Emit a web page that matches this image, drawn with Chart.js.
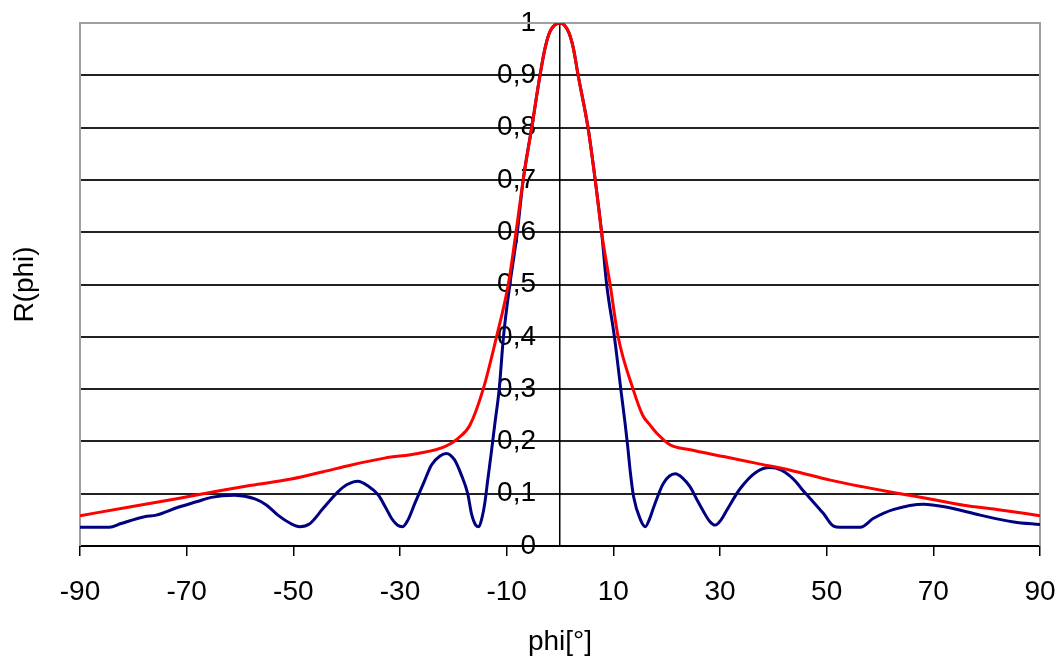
<!DOCTYPE html>
<html>
<head>
<meta charset="utf-8">
<script src="https://cdn.jsdelivr.net/npm/chart.js@4/dist/chart.umd.min.js"></script>
<style>
  html, body { margin: 0; padding: 0; background: #fff; }
  #wrap { width: 1061px; height: 663px; }
</style>
</head>
<body>
<div id="wrap"><canvas id="phiChart" width="1061" height="663"></canvas></div>
<script>
// values: angle phi in degrees, R(phi)
var bluePhi = [-90, -84.5, -82.3, -77.9, -75.7, -71.6, -68, -65.4, -61, -57.2, -55, -52.9, -50.5, -48.8, -47, -44.4,
    -41.6, -40, -37.9, -36, -34.1, -32.5, -31.6, -30.5, -29.5, -28.5, -27.2, -25.5, -24.1, -22.5, -21.3, -19.8,
    -18.5, -17.3, -16.6, -15.8, -15.2, -14.6, -14.1, -13.5, -12.9, -12.2, -11.4, -10.6, -9.4, -8.0, -6.9, -5.3,
    -3.75, -2.8, -1.9, 0, 1.6, 2.5, 3.4, 5.25, 6.6, 7.8, 8.75, 10.2, 11.4, 12.2,
    12.7, 13.2, 13.8, 15.1, 16, 16.8, 17.6, 19.4, 21.6, 23, 24.4, 25.6, 26.9, 28, 29.1, 30.2, 31.3, 33.8,
    36.9, 39.4, 41.5, 43.2, 44.4, 45.4, 46.9, 49.4, 51.3, 52.5, 56.3, 58.8, 62.6, 68.2, 72.6, 78.8, 85.1, 90];
var blueR = [0.036, 0.036, 0.043, 0.056, 0.059, 0.074, 0.085, 0.093, 0.097, 0.090, 0.078, 0.059, 0.043, 0.037, 0.042, 0.072,
    0.104, 0.117, 0.124, 0.115, 0.098, 0.070, 0.053, 0.040, 0.037, 0.050, 0.082, 0.122, 0.155, 0.172, 0.177, 0.165,
    0.136, 0.100, 0.062, 0.040, 0.037, 0.055, 0.082, 0.130, 0.177, 0.235, 0.300, 0.400, 0.500, 0.600, 0.700, 0.800,
    0.900, 0.952, 0.983, 1.0, 0.983, 0.952, 0.900, 0.800, 0.700, 0.600, 0.500, 0.400, 0.300, 0.235,
    0.190, 0.140, 0.094, 0.050, 0.037, 0.052, 0.075, 0.120, 0.138, 0.130, 0.113, 0.090, 0.066, 0.048, 0.040, 0.050, 0.069, 0.110,
    0.142, 0.150, 0.145, 0.133, 0.121, 0.108, 0.091, 0.062, 0.038, 0.036, 0.036, 0.053, 0.070, 0.080, 0.074, 0.059, 0.046, 0.041];

var redPhi = [-90, -81, -71.6, -64.1, -57.9, -50.4, -44.4, -39.1, -32.9, -26.6, -21.6, -19.1, -16.9, -14.4, -11.9, -9.7,
    -8.25, -6.9, -5.3, -3.75, -2.8, -1.9, 0, 1.6, 2.5, 3.4, 5.25, 6.6, 7.8, 9.4, 10.9, 13.7,
    15.5, 16.9, 18.2, 20.7, 24.4, 30.7, 36.9, 43.2, 50.7, 56.9, 63.2, 69.4, 75.7, 81.9, 90];
var redR = [0.058, 0.074, 0.091, 0.105, 0.116, 0.128, 0.142, 0.155, 0.168, 0.177, 0.190, 0.206, 0.231, 0.300, 0.400, 0.500,
    0.600, 0.700, 0.800, 0.900, 0.952, 0.983, 1.0, 0.983, 0.952, 0.900, 0.800, 0.700, 0.600, 0.500, 0.400, 0.300,
    0.250, 0.231, 0.215, 0.193, 0.184, 0.171, 0.158, 0.145, 0.126, 0.113, 0.101, 0.090, 0.078, 0.070, 0.058];

var xTickValues = [-90, -70, -50, -30, -10, 10, 30, 50, 70, 90];
var xTitle = "phi[°]";
var yTitle = "R(phi)";

function toPoints(xs, ys) {
    return xs.map((x, i) => ({x: x, y: ys[i]}));
}

// grey frame round the plot area (left, top, right)
var framePlugin = {
    id: 'frame',
    beforeDatasetsDraw: function(chart) {
        var a = chart.chartArea, c = chart.ctx;
        c.save();
        c.strokeStyle = '#a0a0a0';
        c.lineWidth = 2;
        c.beginPath();
        c.moveTo(a.left, a.bottom);
        c.lineTo(a.left, a.top);
        c.lineTo(a.right, a.top);
        c.lineTo(a.right, a.bottom);
        c.stroke();
        c.restore();
    }
};

var tickFont = {family: "'Liberation Sans', Arial, sans-serif", size: 28};

// keep label overhang from pushing the plot area around
function noPadding(s) {
    s.paddingTop = 0;
    s.paddingBottom = 0;
    s.paddingLeft = 0;
    s.paddingRight = 0;
}

var cfg = {
    type: 'line',
    data: {
        datasets: [{
            label: 'red',
            data: toPoints(redPhi, redR),
            borderColor: '#ff0000',
            borderWidth: 3,
            pointRadius: 0,
            cubicInterpolationMode: 'monotone',
            fill: false
        }, {
            label: 'blue',
            data: toPoints(bluePhi, blueR),
            borderColor: '#000080',
            borderWidth: 3,
            pointRadius: 0,
            cubicInterpolationMode: 'monotone',
            fill: false
        }]
    },
    options: {
        responsive: false,
        animation: false,
        devicePixelRatio: 1,
        layout: { padding: { top: 23, right: 21, left: 0, bottom: 0 } },
        plugins: {
            legend: { display: false },
            tooltip: { enabled: false }
        },
        scales: {
            x: {
                type: 'linear',
                min: -90,
                max: 90,
                afterBuildTicks: function(s) { s.ticks = xTickValues.map(v => ({value: v})); },
                afterFit: function(s) { s.height = 117; noPadding(s); },
                grid: { drawOnChartArea: false, drawTicks: true, tickLength: 10, tickColor: '#000', lineWidth: 1.5 },
                border: { display: true, color: '#000', width: 2 },
                ticks: { color: '#000', font: tickFont, padding: 19, maxRotation: 0, callback: v => String(v) },
                title: { display: true, text: xTitle, color: '#000', font: tickFont, padding: { top: 0, bottom: 4 } }
            },
            y: {
                type: 'linear',
                position: 'center',
                min: 0,
                max: 1,
                afterFit: noPadding,
                ticks: {
                    stepSize: 0.1,
                    color: '#000',
                    font: tickFont,
                    padding: 24,
                    callback: function(v) { return String(Math.round(v * 10) / 10).replace('.', ','); }
                },
                grid: {
                    drawTicks: false,
                    lineWidth: 2,
                    color: ctx => (ctx.tick && ctx.tick.value >= 0.999) ? '#a0a0a0' : '#222222'
                },
                border: { display: true, color: '#000', width: 1.5 }
            },
            y2: {
                type: 'linear',
                position: 'left',
                min: 0,
                max: 1,
                afterFit: function(s) { s.width = 80; noPadding(s); },
                ticks: { display: false },
                grid: { display: false, drawTicks: false },
                border: { display: false },
                title: { display: true, text: yTitle, color: '#000', font: tickFont, padding: { top: 8, bottom: 0 } }
            }
        }
    },
    plugins: [framePlugin]
};

var ctx = document.getElementById('phiChart').getContext('2d');
var phiChart = new Chart(ctx, cfg);
</script>
</body>
</html>
